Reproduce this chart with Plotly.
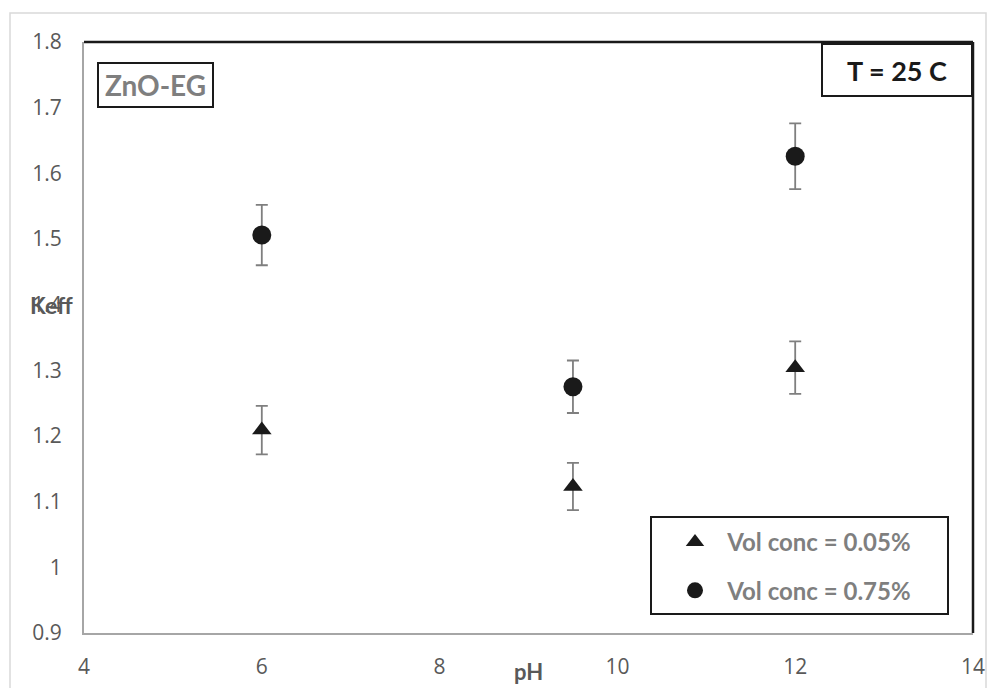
import plotly.graph_objects as go

ph = [6, 9.5, 12]
keff_005 = [1.209, 1.123, 1.304]
err_005 = [0.037, 0.036, 0.040]
keff_075 = [1.506, 1.275, 1.626]
err_075 = [0.046, 0.040, 0.050]
x_ticks = [4, 6, 8, 10, 12, 14]
y_ticks = [0.9, 1.0, 1.1, 1.2, 1.3, 1.4, 1.5, 1.6, 1.7, 1.8]
y_labels = ["0.9", "1", "1.1", "1.2", "1.3", "1.4", "1.5", "1.6", "1.7", "1.8"]
series_names = ["Vol conc = 0.05%", "Vol conc = 0.75%"]

FONT = "Lato"
TICKFONT = "Open Sans"
GREY = "#595959"
LGREY = "#7f7f7f"
BLACK = "#1a1a1a"

W, H = 987, 688
PL, PR, PT, PB = 84, 973, 42, 633  # plot area in screen pixels


def px(x):
    return (x - PL) / (PR - PL)


def py(y):
    return (PB - y) / (PB - PT)


fig = go.Figure()
fig.add_trace(go.Scatter(
    x=ph, y=keff_005, mode="markers",
    name="&nbsp;&nbsp;<b>" + series_names[0] + "</b>",
    marker=dict(symbol="triangle-up", size=17, color=BLACK),
    error_y=dict(type="data", array=err_005, color=LGREY, thickness=1.8, width=6),
    legendgroup="a",
))
fig.add_trace(go.Scatter(
    x=ph, y=keff_075, mode="markers",
    name="&nbsp;&nbsp;<b>" + series_names[1] + "</b>",
    marker=dict(symbol="circle", size=19, color=BLACK),
    error_y=dict(type="data", array=err_075, color=LGREY, thickness=1.8, width=6),
    legendgroup="b",
))

fig.update_layout(
    width=W, height=H,
    margin=dict(l=PL, r=W - PR, t=PT, b=H - PB, autoexpand=False),
    paper_bgcolor="white", plot_bgcolor="white",
    font=dict(family=FONT, color=GREY, size=16),
    xaxis=dict(range=[4, 14], tickvals=x_ticks, showgrid=False, zeroline=False,
               showline=True, linecolor="#a6a6a6", linewidth=2, ticks="",
               automargin=False, ticklabelstandoff=14,
               tickfont=dict(size=21, color=GREY, family=TICKFONT)),
    yaxis=dict(range=[0.9, 1.8], tickvals=y_ticks, ticktext=y_labels, showgrid=False,
               zeroline=False, showline=True, linecolor="#a6a6a6", linewidth=2, ticks="",
               automargin=False, ticklabelstandoff=16,
               tickfont=dict(size=21, color=GREY, family=TICKFONT)),
    showlegend=True,
    legend=dict(x=px(653), y=py(520), xanchor="left", yanchor="top",
                borderwidth=0, bgcolor="rgba(0,0,0,0)",
                font=dict(size=24, color=LGREY, family=FONT), tracegroupgap=14,
                itemsizing="trace", indentation=22),
)

shapes = [
    # outer chart border
    dict(type="rect", xref="paper", yref="paper", x0=px(10), x1=px(986), y0=py(700), y1=py(13),
         line=dict(color="#d9d9d9", width=1.5), layer="below"),
    # top and right black frame
    dict(type="line", xref="paper", yref="paper", x0=0, x1=1, y0=1, y1=1,
         line=dict(color=BLACK, width=2.5)),
    dict(type="line", xref="paper", yref="paper", x0=1, x1=1, y0=0, y1=1,
         line=dict(color=BLACK, width=2.5)),
    # legend box
    dict(type="rect", xref="paper", yref="paper", x0=px(651), x1=px(948), y0=py(614), y1=py(517),
         line=dict(color=BLACK, width=2), fillcolor="white", layer="above"),
]
fig.update_layout(shapes=shapes)

annotations = [
    dict(text="<b>Keff</b>", xref="paper", yref="y", x=px(51.5), y=1.4, showarrow=False,
         font=dict(size=23, color=GREY, family=FONT), xanchor="center", yanchor="middle"),
    dict(text="<b>pH</b>", xref="paper", yref="paper", x=px(528), y=py(687), showarrow=False,
         font=dict(size=22, color=GREY, family=FONT), xanchor="center", yanchor="bottom"),
    dict(text="<b>ZnO-EG</b>", xref="paper", yref="paper", x=px(155.5), y=py(85),
         showarrow=False, font=dict(size=28, color=LGREY, family=FONT),
         bordercolor=BLACK, borderwidth=2, borderpad=0, bgcolor="white",
         width=113, height=42, xanchor="center", yanchor="middle"),
    dict(text="<b>T = 25 C</b>", xref="paper", yref="paper", x=px(897), y=py(70),
         showarrow=False, font=dict(size=27, color=BLACK, family=FONT),
         bordercolor=BLACK, borderwidth=2, borderpad=0, bgcolor="white",
         width=148, height=50, xanchor="center", yanchor="middle"),
]
fig.update_layout(annotations=annotations)

fig.write_html("out.html", config={"displayModeBar": False},
               post_script="document.body.style.margin='0';")
